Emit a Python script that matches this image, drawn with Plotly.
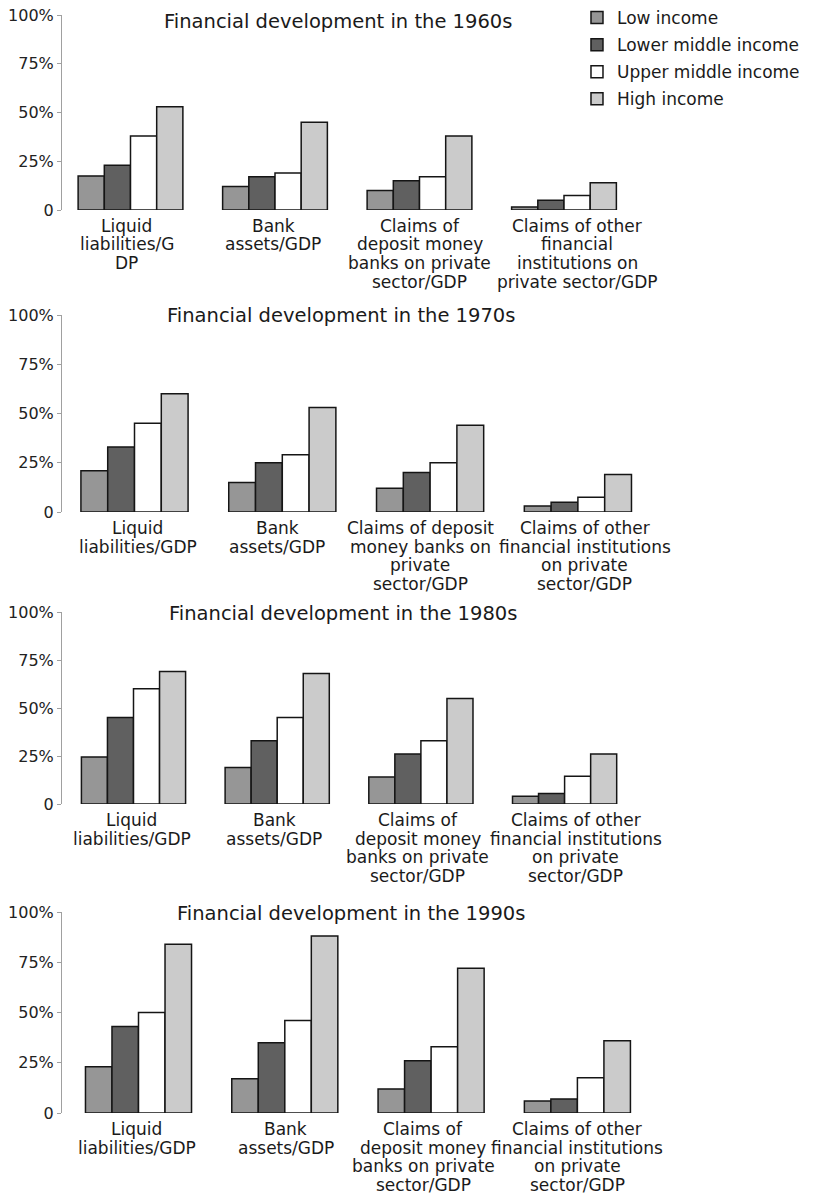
import plotly.graph_objects as go
from plotly.subplots import make_subplots

# data (percent of GDP)
decades = ["1960s", "1970s", "1980s", "1990s"]
categories = ["Liquid liabilities/GDP", "Bank assets/GDP",
              "Claims of deposit money banks on private sector/GDP",
              "Claims of other financial institutions on private sector/GDP"]
income_groups = ["Low income", "Lower middle income", "Upper middle income", "High income"]

low_income = [[17.5, 12, 10, 1.5], [21, 15, 12, 3], [24.5, 19, 14, 4], [23, 17, 12, 6]]
lower_middle = [[23, 17, 15, 5], [33, 25, 20, 5], [45, 33, 26, 5.5], [43, 35, 26, 7]]
upper_middle = [[38, 19, 17, 7.5], [45, 29, 25, 7.5], [60, 45, 33, 14.5], [50, 46, 33, 17.5]]
high_income = [[53, 45, 38, 14], [60, 53, 44, 19], [69, 68, 55, 26], [84, 88, 72, 36]]

# wrapped category labels as printed under each panel
label_lines = [
    [["Liquid", "liabilities/G", "DP"], ["Bank", "assets/GDP"],
     ["Claims of", "deposit money", "banks on private", "sector/GDP"],
     ["Claims of other", "financial", "institutions on", "private sector/GDP"]],
    [["Liquid", "liabilities/GDP"], ["Bank", "assets/GDP"],
     ["Claims of deposit", "money banks on", "private", "sector/GDP"],
     ["Claims of other", "financial institutions", "on private", "sector/GDP"]],
    [["Liquid", "liabilities/GDP"], ["Bank", "assets/GDP"],
     ["Claims of", "deposit money", "banks on private", "sector/GDP"],
     ["Claims of other", "financial institutions", "on private", "sector/GDP"]],
    [["Liquid", "liabilities/GDP"], ["Bank", "assets/GDP"],
     ["Claims of", "deposit money", "banks on private", "sector/GDP"],
     ["Claims of other", "financial institutions", "on private", "sector/GDP"]],
]

series = [low_income, lower_middle, upper_middle, high_income]
colors = ["#969696", "#606060", "#ffffff", "#cbcbcb"]

W, H = 835, 1195
FONT = "DejaVu Sans"

# pixel layout of each panel: (top of 100%, zero line), width of one category slot,
# offset of the first group centre from the axis line
panel_px = [(15, 210), (315, 512), (612, 804), (912, 1113)]
slot_px = [144.5, 147.8, 143.7, 146.3]
first_px = [68.5, 72.5, 71.5, 76.5]
title_px = [(338, 22), (341, 315), (343, 613), (351, 913)]
label_shift = [[-4, -2, 0, 13], [3, -5, -10, 7], [-2, -3, -3, 11], [-2, 1, -8, 0]]
AXIS_X = 62

fig = make_subplots(rows=4, cols=1)

for p in range(4):
    for s in range(4):
        fig.add_trace(go.Bar(
            x=categories, y=series[s][p], name=income_groups[s],
            marker=dict(color=colors[s], line=dict(color="#151515", width=1.5)),
            legendgroup=income_groups[s], showlegend=(p == 0),
        ), row=p + 1, col=1)

for p in range(4):
    top, bot = panel_px[p]
    x0 = -first_px[p] / slot_px[p]
    xname = "xaxis" if p == 0 else "xaxis%d" % (p + 1)
    yname = "yaxis" if p == 0 else "yaxis%d" % (p + 1)
    fig.layout[xname].update(
        domain=[AXIS_X / W, (AXIS_X + 4 * slot_px[p]) / W], range=[x0, x0 + 4],
        automargin=False, showticklabels=False, showline=False, showgrid=False,
        zeroline=False, ticks="")
    fig.layout[yname].update(
        domain=[1 - bot / H, 1 - top / H], range=[0, 100], automargin=False,
        tickvals=[0, 25, 50, 75, 100], ticktext=["0", "25%", "50%", "75%", "100%"],
        showline=True, linecolor="#a0a0a0", linewidth=1,
        ticks="outside", ticklen=4, tickcolor="#a0a0a0",
        showgrid=False, zeroline=False,
        tickfont=dict(family=FONT, size=16, color="#222"))

    tx, ty = title_px[p]
    fig.add_annotation(text="Financial development in the " + decades[p],
                       xref="paper", yref="paper", x=tx / W, y=1 - ty / H,
                       xanchor="center", yanchor="middle", showarrow=False,
                       font=dict(family=FONT, size=19.5, color="#1a1a1a"))

    xr = "x" if p == 0 else "x%d" % (p + 1)
    for c in range(4):
        for i, line in enumerate(label_lines[p][c]):
            fig.add_annotation(text=line, xref=xr, yref="paper",
                               x=categories[c], y=1 - (bot + 16 + i * 18.5) / H,
                               xshift=label_shift[p][c],
                               xanchor="center", yanchor="middle", showarrow=False,
                               font=dict(family=FONT, size=17, color="#1a1a1a"))

fig.update_layout(
    template="none",
    width=W, height=H, margin=dict(l=0, r=0, t=0, b=0, pad=0, autoexpand=False),
    paper_bgcolor="white", plot_bgcolor="white",
    barmode="group", bargap=0.275, bargroupgap=0,
    legend=dict(x=0.691, y=1, xanchor="left", yanchor="top", tracegroupgap=2,
                font=dict(family=FONT, size=17, color="#1a1a1a"),
                bgcolor="rgba(0,0,0,0)"),
    font=dict(family=FONT),
)

# drop the default page margin so the figure sits at the window origin
fig.write_html("out.html", config={"displayModeBar": False},
               post_script="document.body.style.margin='0';")
